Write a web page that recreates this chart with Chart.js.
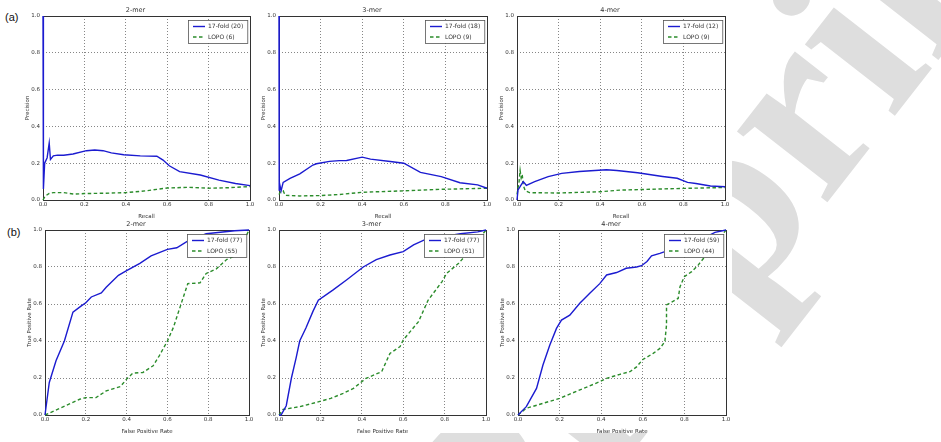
<!DOCTYPE html>
<html>
<head>
<meta charset="utf-8">
<script src="https://cdn.jsdelivr.net/npm/chart.js@4.4.1/dist/chart.umd.min.js"></script>
<style>
  html, body { margin: 0; padding: 0; background: #fff; }
  body { position: relative; width: 941px; height: 442px; overflow: hidden; }
  #watermark { position: absolute; left: 345px; top: 480px; transform: rotate(-52deg); transform-origin: 0 0;
    font: bold 250px/1 "Liberation Serif", serif; color: #dedede; white-space: nowrap; }
  #sheet { position: absolute; left: 0; top: 0; width: 732px; height: 433px; background: #fff; }
  canvas { position: absolute; }
  .tag { position: absolute; font: 11px/11px "Liberation Sans", Arial, sans-serif; color: #111; }
</style>
</head>
<body>
<div id="watermark">Preprint</div>
<div id="sheet"></div>
<div class="tag" style="left:5px;top:12px">(a)</div>
<div class="tag" style="left:7px;top:227px">(b)</div>
<script>
// values: [x, y] pairs
// (a) precision / recall
const pr2mer17fold = [[0,1.0],[0.001,0.3],[0.003,0.06],[0.008,0.2],[0.02,0.23],[0.03,0.31],[0.036,0.22],[0.05,0.24],[0.07,0.244],[0.1,0.243],[0.145,0.25],[0.21,0.268],[0.25,0.272],[0.29,0.268],[0.33,0.256],[0.39,0.246],[0.47,0.24],[0.55,0.238],[0.58,0.217],[0.61,0.186],[0.66,0.154],[0.76,0.136],[0.85,0.108],[0.93,0.09],[1.0,0.078]];
const pr2merLopo = [[0,0.0],[0.01,0.02],[0.03,0.036],[0.05,0.04],[0.1,0.04],[0.15,0.032],[0.2,0.035],[0.3,0.037],[0.4,0.04],[0.5,0.05],[0.55,0.058],[0.6,0.065],[0.7,0.069],[0.8,0.064],[0.9,0.067],[1.0,0.073]];
const pr3mer17fold = [[0,1.0],[0.001,0.05],[0.005,0.077],[0.01,0.05],[0.02,0.096],[0.053,0.118],[0.1,0.142],[0.163,0.19],[0.18,0.197],[0.243,0.21],[0.29,0.214],[0.325,0.215],[0.4,0.233],[0.44,0.222],[0.535,0.209],[0.6,0.2],[0.68,0.15],[0.78,0.127],[0.87,0.094],[0.955,0.082],[1.0,0.064]];
const pr3merLopo = [[0,0.03],[0.01,0.05],[0.02,0.05],[0.03,0.025],[0.1,0.022],[0.2,0.024],[0.29,0.03],[0.4,0.042],[0.58,0.049],[0.78,0.058],[1.0,0.064]];
const pr4mer17fold = [[0,0.0],[0.005,0.055],[0.02,0.082],[0.03,0.1],[0.045,0.08],[0.085,0.1],[0.15,0.127],[0.215,0.145],[0.3,0.155],[0.43,0.164],[0.48,0.16],[0.58,0.148],[0.7,0.128],[0.77,0.118],[0.82,0.096],[0.86,0.09],[0.93,0.076],[1.0,0.072]];
const pr4merLopo = [[0,0.03],[0.01,0.1],[0.015,0.16],[0.02,0.12],[0.025,0.14],[0.03,0.08],[0.04,0.05],[0.06,0.04],[0.2,0.038],[0.4,0.045],[0.5,0.054],[0.8,0.063],[1.0,0.068]];

// (b) ROC
const roc2mer17fold = [[0,0],[0.021,0.176],[0.054,0.293],[0.095,0.40],[0.137,0.556],[0.178,0.59],[0.2,0.607],[0.227,0.638],[0.276,0.66],[0.3,0.69],[0.36,0.755],[0.4,0.78],[0.465,0.82],[0.52,0.86],[0.6,0.895],[0.646,0.904],[0.695,0.937],[0.79,0.98],[0.93,0.996],[1.0,1.0]];
const roc2merLopo = [[0,0],[0.1,0.05],[0.17,0.085],[0.2,0.094],[0.25,0.094],[0.3,0.13],[0.37,0.154],[0.4,0.194],[0.43,0.226],[0.48,0.23],[0.53,0.266],[0.56,0.32],[0.6,0.40],[0.63,0.475],[0.67,0.61],[0.70,0.71],[0.76,0.714],[0.79,0.765],[0.84,0.79],[0.89,0.84],[0.94,0.864],[0.97,0.93],[1.0,1.0]];
const roc3mer17fold = [[0,0],[0.01,0],[0.035,0.05],[0.06,0.2],[0.083,0.31],[0.1,0.4],[0.13,0.47],[0.164,0.56],[0.19,0.62],[0.26,0.675],[0.326,0.73],[0.407,0.80],[0.47,0.84],[0.536,0.865],[0.6,0.883],[0.65,0.92],[0.7,0.945],[0.8,0.965],[0.876,0.98],[0.96,0.99],[1.0,1.0]];
const roc3merLopo = [[0,0],[0.02,0.03],[0.1,0.045],[0.18,0.068],[0.25,0.09],[0.31,0.117],[0.36,0.144],[0.42,0.198],[0.496,0.234],[0.536,0.333],[0.585,0.37],[0.6,0.405],[0.674,0.505],[0.72,0.62],[0.787,0.72],[0.81,0.766],[0.868,0.82],[0.93,0.9],[1.0,1.0]];
const roc4mer17fold = [[0,0],[0.04,0.045],[0.089,0.144],[0.12,0.27],[0.153,0.378],[0.185,0.468],[0.209,0.513],[0.249,0.54],[0.297,0.604],[0.345,0.658],[0.393,0.71],[0.426,0.757],[0.474,0.77],[0.52,0.793],[0.57,0.8],[0.594,0.807],[0.62,0.83],[0.642,0.86],[0.682,0.874],[0.8,0.92],[0.9,0.96],[0.947,0.987],[1.0,1.0]];
const roc4merLopo = [[0,0],[0.04,0.036],[0.2,0.09],[0.393,0.18],[0.426,0.198],[0.49,0.22],[0.538,0.234],[0.57,0.26],[0.6,0.30],[0.65,0.333],[0.682,0.36],[0.706,0.396],[0.714,0.486],[0.714,0.595],[0.739,0.61],[0.77,0.63],[0.779,0.694],[0.8,0.748],[0.835,0.775],[0.866,0.81],[0.93,0.9],[1.0,1.0]];

const titles = ['2-mer', '3-mer', '4-mer'];
const legend2merPR = ['17-fold (20)', 'LOPO (6)'];
const legend3merPR = ['17-fold (18)', 'LOPO (9)'];
const legend4merPR = ['17-fold (12)', 'LOPO (9)'];
const legend2merROC = ['17-fold (77)', 'LOPO (55)'];
const legend3merROC = ['17-fold (77)', 'LOPO (51)'];
const legend4merROC = ['17-fold (59)', 'LOPO (44)'];

const FONT = '"DejaVu Sans", sans-serif';
const BLUE = '#1b1bd0';
const GREEN = '#2b8c2b';

// matplotlib-like axes frame (under the lines) and inner legend box (over them)
const mplBox = {
  id: 'mplBox',
  beforeDatasetsDraw(chart) {
    const { ctx, chartArea: a } = chart;
    ctx.save();
    ctx.strokeStyle = '#333';
    ctx.lineWidth = 1;
    ctx.strokeRect(a.left + 0.5, a.top + 0.5, a.right - a.left, a.bottom - a.top);
    ctx.restore();
  },
  afterDatasetsDraw(chart) {
    const { ctx, chartArea: a } = chart;
    ctx.save();
    ctx.font = '6px ' + FONT;
    const sets = chart.data.datasets;
    const tw = Math.max(...sets.map(d => ctx.measureText(d.label).width));
    const w = tw + 24, h = 23;
    const x = Math.round(a.right - 3 - w), y = a.top + 4;
    ctx.fillStyle = '#fff';
    ctx.fillRect(x, y, w, h);
    ctx.strokeStyle = '#555';
    ctx.lineWidth = 0.8;
    ctx.strokeRect(x + 0.5, y + 0.5, w, h);
    sets.forEach((d, i) => {
      const cy = y + 6.5 + i * 10.5;
      ctx.strokeStyle = d.borderColor;
      ctx.lineWidth = d.borderWidth;
      ctx.setLineDash(d.borderDash || []);
      ctx.beginPath();
      ctx.moveTo(x + 5, cy);
      ctx.lineTo(x + 17, cy);
      ctx.stroke();
      ctx.setLineDash([]);
      ctx.fillStyle = '#333';
      ctx.textBaseline = 'middle';
      ctx.fillText(d.label, x + 20, cy);
    });
    ctx.restore();
  }
};

function makeAxis(label, horizontal) {
  return {
    type: 'linear', min: 0, max: 1,
    ticks: {
      stepSize: 0.2, padding: horizontal ? 1.5 : 3, color: '#333', maxRotation: 0,
      font: { family: FONT, size: 5.5 },
      callback: v => v.toFixed(1)
    },
    grid: { color: 'rgba(0,0,0,0.6)', lineWidth: 0.8, drawTicks: false },
    border: { display: false, dash: [1, 2] },
    title: {
      display: true, text: label, color: '#333',
      font: { family: FONT, size: 5.5 },
      padding: { top: horizontal ? 4.7 : 3.7, bottom: 0 }
    },
    afterFit: s => { if (horizontal) s.height = 20; else s.width = 22; }
  };
}

function panel(box, title, xLabel, yLabel, curveA, curveB, names) {
  const [L, T, W, H] = box;
  const c = document.createElement('canvas');
  c.width = W + 22 + 6;
  c.height = H + 16 + 20;
  c.style.left = (L - 22) + 'px';
  c.style.top = (T - 16) + 'px';
  document.body.appendChild(c);
  const line = (pts, label, color, dash) => ({
    label, data: pts.map(([x, y]) => ({ x, y })),
    showLine: true, borderColor: color, backgroundColor: color, borderWidth: 1.4,
    borderDash: dash, pointRadius: 0, tension: 0, fill: false, clip: 2
  });
  new Chart(c, {
    type: 'scatter',
    data: { datasets: [line(curveA, names[0], BLUE, []), line(curveB, names[1], GREEN, [3.5, 2.5])] },
    options: {
      responsive: false, animation: false,
      layout: { padding: { top: 4.8, right: 6, left: 0, bottom: 0 } },
      scales: { x: makeAxis(xLabel, true), y: makeAxis(yLabel, false) },
      plugins: {
        legend: { display: false }, tooltip: { enabled: false },
        title: { display: true, text: title, color: '#333', font: { family: FONT, size: 6.5, weight: 'normal' }, padding: { top: 2, bottom: 1.4 } }
      }
    },
    plugins: [mplBox]
  });
}

panel([43, 16, 207, 184], titles[0], 'Recall', 'Precision', pr2mer17fold, pr2merLopo, legend2merPR);
panel([279, 16, 208, 184], titles[1], 'Recall', 'Precision', pr3mer17fold, pr3merLopo, legend3merPR);
panel([517, 16, 208, 184], titles[2], 'Recall', 'Precision', pr4mer17fold, pr4merLopo, legend4merPR);
panel([45, 230, 204, 185], titles[0], 'False Positive Rate', 'True Positive Rate', roc2mer17fold, roc2merLopo, legend2merROC);
panel([279, 230, 207, 185], titles[1], 'False Positive Rate', 'True Positive Rate', roc3mer17fold, roc3merLopo, legend3merROC);
panel([518, 230, 208, 185], titles[2], 'False Positive Rate', 'True Positive Rate', roc4mer17fold, roc4merLopo, legend4merROC);
</script>
</body>
</html>
